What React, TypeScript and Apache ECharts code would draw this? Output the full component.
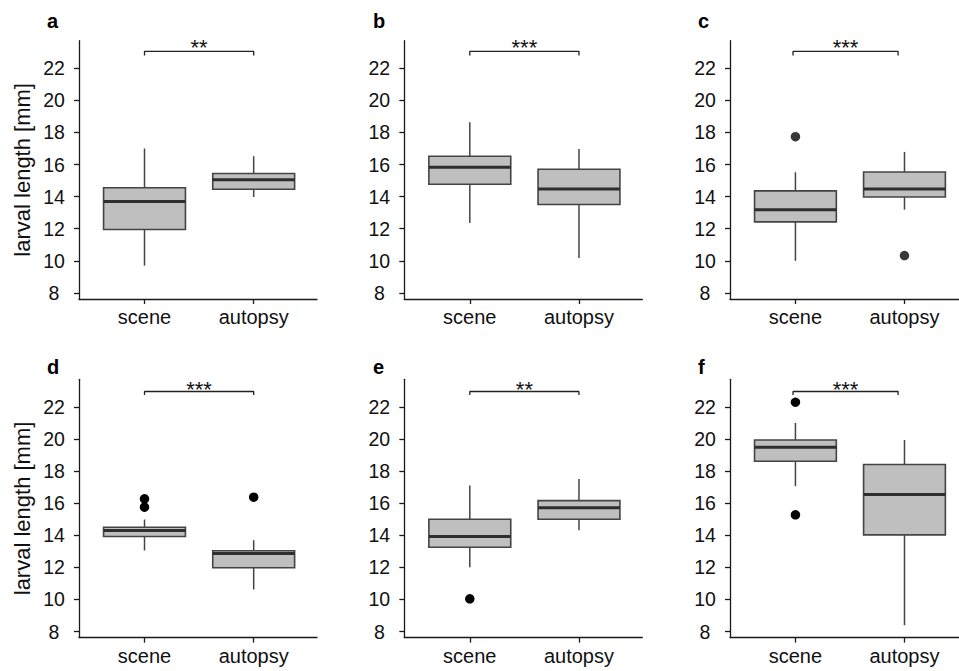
import React, { useEffect, useRef } from 'react';
import * as echarts from 'echarts';

const categories = ['scene', 'autopsy'];
const panelLetters = ['a', 'b', 'c', 'd', 'e', 'f'];
const significance = ['**', '***', '***', '***', '**', '***'];
const yTitle = 'larval length [mm]';
const yTicks = [8, 10, 12, 14, 16, 18, 20, 22];

// [min, Q1, median, Q3, max] per panel
const sceneStats = [
  [9.7, 11.95, 13.7, 14.55, 17.0],
  [12.35, 14.77, 15.83, 16.52, 18.64],
  [10.0, 12.43, 13.19, 14.36, 15.52],
  [13.05, 13.92, 14.29, 14.5, 14.98],
  [12.01, 13.25, 13.92, 15.0, 17.1],
  [17.06, 18.61, 19.49, 19.94, 21.0],
];
const autopsyStats = [
  [13.98, 14.46, 15.06, 15.44, 16.52],
  [10.18, 13.51, 14.48, 15.71, 16.97],
  [13.19, 13.98, 14.48, 15.54, 16.79],
  [10.62, 11.97, 12.86, 13.03, 13.69],
  [14.31, 15.0, 15.71, 16.16, 17.51],
  [8.39, 14.02, 16.54, 18.41, 19.94],
];
const sceneOutliers = [[], [], [17.74], [16.27, 15.75], [10.04], [22.29, 15.27]];
const autopsyOutliers = [[], [], [10.33], [16.37], [], []];
const outlierColors = ['#333', '#333', '#383838', '#000', '#000', '#000'];

// annotation heights (data units)
const bracketTop = [23.06, 23.06, 23.06, 22.96, 22.96, 22.96];
const bracketEnd = [22.8, 22.8, 22.8, 22.74, 22.74, 22.74];
const starY = [23.29, 23.29, 23.29, 23.08, 23.08, 23.08];

const Y_MIN = 7.62;
const Y_MAX = 23.72;
const X_MIN = 0.4;
const X_MAX = 2.58;

const FONT = "'Liberation Sans', Arial, Helvetica, sans-serif";
const axisX = [79, 404.3, 730];
const rowTop = [40.7, 379.3];
const plotW = 238;
const plotH = 258.3;
const letterX = [47, 373, 698];
const letterY = [20.5, 367];
const titleX = 22.7;

export default function App() {
  const ref = useRef<HTMLDivElement>(null);
  useEffect(() => {
    if (!ref.current) return;
    const chart = echarts.init(ref.current, undefined, { renderer: 'svg' });
    const grid: any[] = [];
    const xAxis: any[] = [];
    const yAxis: any[] = [];
    const series: any[] = [];
    const graphic: any[] = [];
    const pxPerUnit = plotW / (X_MAX - X_MIN);

    for (let p = 0; p < 6; p++) {
      const col = p % 3;
      const row = Math.floor(p / 3);
      const left = axisX[col];
      const top = rowTop[row];
      const gB = 2 * p;
      const gA = 2 * p + 1;
      grid.push({ left, top, width: plotW, height: plotH, containLabel: false });
      grid.push({
        left: left + (0.5 - X_MIN) * pxPerUnit,
        top,
        width: 2 * pxPerUnit,
        height: plotH,
        containLabel: false,
      });
      const lineStyle = { color: '#1a1a1a', width: 1.3 };
      xAxis.push({
        gridIndex: gB,
        type: 'value',
        min: X_MIN,
        max: X_MAX,
        axisLine: { show: true, lineStyle },
        axisTick: { show: false },
        axisLabel: { show: false },
        splitLine: { show: false },
      });
      yAxis.push({
        gridIndex: gB,
        type: 'value',
        min: Y_MIN,
        max: Y_MAX,
        axisLine: { show: true, lineStyle },
        axisTick: { show: true, length: 5, lineStyle, customValues: yTicks },
        axisLabel: {
          customValues: yTicks,
          margin: 25,
          align: 'center',
          fontSize: 19.5,
          color: '#111',
          fontFamily: FONT,
        },
        splitLine: { show: false },
      });
      xAxis.push({
        gridIndex: gA,
        type: 'category',
        data: categories,
        boundaryGap: true,
        axisLine: { show: false },
        axisTick: { show: true, alignWithLabel: true, length: 5, lineStyle },
        axisLabel: { fontSize: 20, margin: 8, color: '#111', fontFamily: FONT },
        splitLine: { show: false },
      });
      yAxis.push({ gridIndex: gA, type: 'value', min: Y_MIN, max: Y_MAX, show: false });

      series.push({
        type: 'custom',
        xAxisIndex: gA,
        yAxisIndex: gA,
        encode: { x: 0, y: [1, 2, 3, 4, 5] },
        data: [
          [0, ...sceneStats[p]],
          [1, ...autopsyStats[p]],
        ],
        renderItem: (params: any, api: any) => {
          const x = api.value(0);
          const pMin = api.coord([x, api.value(1)]);
          const pQ1 = api.coord([x, api.value(2)]);
          const pMed = api.coord([x, api.value(3)]);
          const pQ3 = api.coord([x, api.value(4)]);
          const pMax = api.coord([x, api.value(5)]);
          const bw = api.size([1, 0])[0] * 0.75;
          const cx = pMed[0];
          const wStyle = { stroke: '#444', lineWidth: 1.5 };
          return {
            type: 'group',
            children: [
              { type: 'line', shape: { x1: cx, y1: pMax[1], x2: cx, y2: pQ3[1] }, style: wStyle },
              { type: 'line', shape: { x1: cx, y1: pQ1[1], x2: cx, y2: pMin[1] }, style: wStyle },
              {
                type: 'rect',
                shape: { x: cx - bw / 2, y: pQ3[1], width: bw, height: pQ1[1] - pQ3[1] },
                style: { fill: '#bfbfbf', stroke: '#444', lineWidth: 1.6 },
              },
              {
                type: 'line',
                shape: { x1: cx - bw / 2, y1: pMed[1], x2: cx + bw / 2, y2: pMed[1] },
                style: { stroke: '#2e2e2e', lineWidth: 3 },
              },
            ],
          };
        },
      });

      const outData: any[] = [];
      sceneOutliers[p].forEach((v) => outData.push([0, v]));
      autopsyOutliers[p].forEach((v) => outData.push([1, v]));
      series.push({
        type: 'scatter',
        xAxisIndex: gA,
        yAxisIndex: gA,
        data: outData,
        symbol: 'circle',
        symbolSize: 9.5,
        itemStyle: { color: outlierColors[p], opacity: 1 },
      });

      series.push({
        type: 'line',
        xAxisIndex: gB,
        yAxisIndex: gB,
        data: [
          [1, bracketEnd[p]],
          [1, bracketTop[p]],
          [2, bracketTop[p]],
          [2, bracketEnd[p]],
        ],
        symbol: 'none',
        lineStyle: { color: '#222', width: 1.3 },
      });
      series.push({
        type: 'scatter',
        xAxisIndex: gB,
        yAxisIndex: gB,
        data: [[1.5, starY[p]]],
        symbolSize: 0,
        itemStyle: { opacity: 1 },
        label: {
          show: true,
          position: 'inside',
          formatter: significance[p],
          fontSize: 22,
          color: '#111',
          fontFamily: FONT,
        },
      });

      graphic.push({
        type: 'text',
        x: letterX[col],
        y: letterY[row],
        style: {
          text: panelLetters[p],
          font: `bold 20px ${FONT}`,
          fill: '#000',
          verticalAlign: 'middle',
          align: 'left',
        },
      });
      if (col === 0) {
        graphic.push({
          type: 'text',
          x: titleX,
          y: top + plotH / 2,
          rotation: Math.PI / 2,
          style: {
            text: yTitle,
            font: `22px ${FONT}`,
            fill: '#111',
            align: 'center',
            verticalAlign: 'middle',
          },
        });
      }
    }

    chart.setOption({
      animation: false,
      backgroundColor: '#fff',
      grid,
      xAxis,
      yAxis,
      series,
      graphic,
    });
    return () => chart.dispose();
  }, []);

  return (
    <div
      ref={ref}
      style={{ position: 'fixed', left: 0, top: 0, width: 959, height: 671 }}
    />
  );
}
